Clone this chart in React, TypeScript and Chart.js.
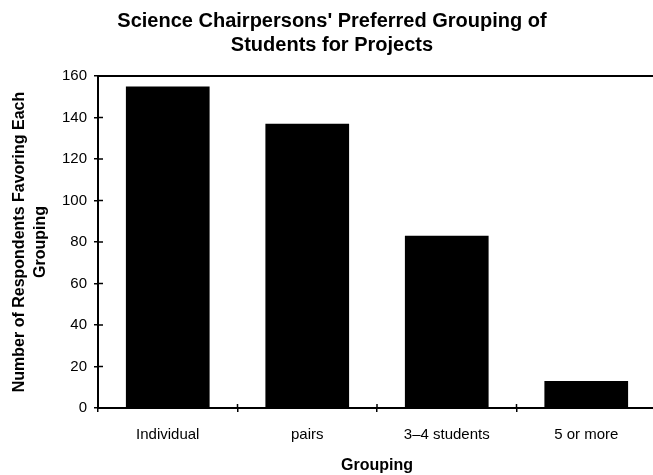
import React, { useEffect, useRef } from "react";
import { Chart, registerables } from "chart.js";

Chart.register(...registerables);

const categories = ["Individual", "pairs", "3\u20134 students", "5 or more"];
const respondents = [155, 137, 83, 13];
const yTickMax = 160;
const yTickStep = 20;
const chartTitle = ["Science Chairpersons' Preferred Grouping of", "Students for Projects"];
const xTitle = "Grouping";
const yTitle = ["Number of Respondents Favoring Each", "Grouping"];

const FONT = "'Liberation Sans', Arial, sans-serif";

const framePlugin = {
  id: "framePlugin",
  afterDraw(chart: any) {
    const { ctx, chartArea } = chart;
    const { left, top, right, bottom } = chartArea;
    const xs = chart.scales.x;
    const ys = chart.scales.y;
    ctx.save();
    ctx.strokeStyle = "#000";
    // top frame line
    ctx.lineWidth = 2;
    ctx.beginPath();
    ctx.moveTo(left - 1, top);
    ctx.lineTo(right + 10, top);
    ctx.stroke();
    // inner parts of tick marks
    ctx.lineWidth = 1.5;
    ys.ticks.forEach((_t: any, i: number) => {
      const y = ys.getPixelForTick(i);
      ctx.beginPath();
      ctx.moveTo(left, y);
      ctx.lineTo(left + 5, y);
      ctx.stroke();
    });
    for (let i = 0; i <= categories.length; i++) {
      const x = xs.getPixelForValue(i - 0.5);
      ctx.beginPath();
      ctx.moveTo(x, bottom);
      ctx.lineTo(x, bottom - 4);
      ctx.stroke();
    }
    ctx.restore();
  },
};

export default function App() {
  const ref = useRef<HTMLCanvasElement | null>(null);
  useEffect(() => {
    if (!ref.current) return;
    const chart = new Chart(ref.current, {
      type: "bar",
      data: {
        labels: categories,
        datasets: [
          {
            data: respondents,
            backgroundColor: "#000",
            borderWidth: 0,
            barPercentage: 0.6,
            categoryPercentage: 1.0,
          },
        ],
      },
      options: {
        responsive: false,
        animation: false,
        devicePixelRatio: 1,
        layout: { padding: { left: 8, right: 4, top: 0, bottom: 0 } },
        plugins: {
          legend: { display: false },
          tooltip: { enabled: false },
          title: {
            display: true,
            text: chartTitle,
            color: "#000",
            font: { family: FONT, size: 20, weight: "bold", lineHeight: 1.2 },
            padding: { top: 9, bottom: 19 },
          },
        },
        scales: {
          x: {
            offset: true,
            grid: {
              display: true,
              offset: true,
              drawOnChartArea: false,
              drawTicks: true,
              tickLength: 4,
              color: "#000",
              lineWidth: 1.5,
            },
            border: { display: true, color: "#000", width: 2 },
            ticks: {
              color: "#000",
              font: { family: FONT, size: 15 },
              padding: 14,
              maxRotation: 0,
            },
            title: {
              display: true,
              text: xTitle,
              color: "#000",
              font: { family: FONT, size: 16, weight: "bold", lineHeight: 1.2 },
              padding: { top: 0, bottom: 0 },
            },
            afterFit(scale: any) {
              scale.height = 67;
            },
          },
          y: {
            min: 0,
            max: yTickMax,
            grid: {
              display: true,
              drawOnChartArea: false,
              drawTicks: true,
              tickLength: 4,
              color: "#000",
              lineWidth: 1.5,
            },
            border: { display: true, color: "#000", width: 2 },
            ticks: {
              stepSize: yTickStep,
              color: "#000",
              font: { family: FONT, size: 15 },
              padding: 7,
            },
            title: {
              display: true,
              text: yTitle,
              color: "#000",
              font: { family: FONT, size: 16, weight: "bold", lineHeight: 1.3 },
              padding: { top: 1, bottom: 0 },
            },
            afterFit(scale: any) {
              scale.width = 90;
            },
          },
        },
      },
      plugins: [framePlugin],
    });
    return () => chart.destroy();
  }, []);

  return (
    <div
      style={{
        position: "absolute",
        left: 0,
        top: 0,
        width: 653,
        height: 475,
        overflow: "hidden",
        background: "#fff",
      }}
    >
      <canvas ref={ref} width={660} height={475} style={{ display: "block" }} />
    </div>
  );
}
